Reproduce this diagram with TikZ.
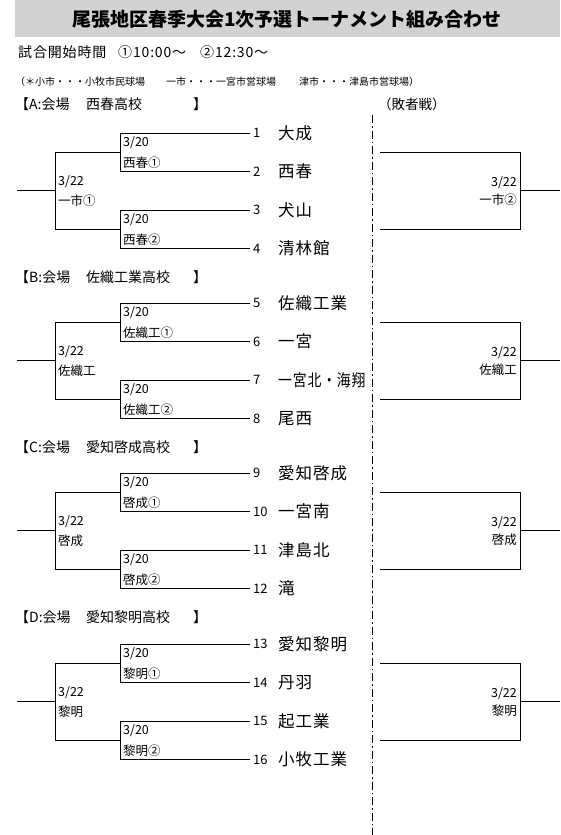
\documentclass[tikz,border=0pt]{standalone}
\usepackage{fontspec}
\setmainfont{Noto Sans CJK JP}
\begin{document}
\begin{tikzpicture}[x=1pt,y=-1pt,
  ln/.style={line width=0.9pt},
  team/.style={anchor=west,inner sep=0pt,font=\fontsize{16.5}{16.5}\selectfont\addfontfeature{LetterSpace=6}},
  num/.style={anchor=west,inner sep=0pt,font=\fontsize{13}{13}\selectfont},
  lbl/.style={anchor=west,inner sep=0pt,font=\fontsize{12.5}{12.5}\selectfont},
  lblr/.style={anchor=east,inner sep=0pt,font=\fontsize{12.5}{12.5}\selectfont},
  hdr/.style={anchor=west,inner sep=0pt,font=\fontsize{14}{14}\selectfont},
  note/.style={anchor=west,inner sep=0pt,font=\fontsize{10}{10}\selectfont},
  tline/.style={anchor=west,inner sep=0pt,font=\fontsize{14}{14}\selectfont\addfontfeature{LetterSpace=6}}]
\useasboundingbox (0,0) rectangle (560,835);
\fill[gray!35] (15,0) rectangle (560,37);
\node[inner sep=0pt,font=\fontsize{19}{19}\selectfont\bfseries] (title) at (287,19) {尾張地区春季大会1次予選トーナメント組み合わせ};
\node[tline] (time) at (18,52) {試合開始時間};
\node[tline] (time1) at (118,52) {①10:00～};
\node[tline] (time2) at (200,52) {②12:30～};
\node[note] (note1) at (15,82) {（＊小市・・・小牧市民球場};
\node[note] (note2) at (166,82) {一市・・・一宮市営球場};
\node[note] (note3) at (299,82) {津市・・・津島市営球場）};
\node[anchor=west,inner sep=0pt,font=\fontsize{13.5}{13.5}\selectfont] (loser) at (378,104) {（敗者戦）};
\coordinate (dtop) at (372,115);
\coordinate (dbot) at (372,835);
\draw[line width=0.8pt,dash pattern=on 8pt off 3pt on 1.5pt off 3pt] (dtop) -- (dbot);
\foreach \sec/\yz/\hy/\hn/\na/\nb/\nc/\nd/\la/\lb/\lc/\lr [count=\i from 0] in {
  A/133/104/西春高校/大成/西春/犬山/清林館/西春①/西春②/一市①/一市②,
  B/303/277/佐織工業高校/佐織工業/一宮/{\scalebox{0.84}[1]{一宮北・海翔}}/尾西/佐織工①/佐織工②/佐織工/佐織工,
  C/473/447/愛知啓成高校/愛知啓成/一宮南/津島北/滝/啓成①/啓成②/啓成/啓成,
  D/644/617/愛知黎明高校/愛知黎明/丹羽/起工業/小牧工業/黎明①/黎明②/黎明/黎明}{
  \pgfmathsetmacro{\ta}{\yz}
  \pgfmathsetmacro{\tb}{\yz+38.5}
  \pgfmathsetmacro{\tc}{\yz+77}
  \pgfmathsetmacro{\td}{\yz+115.5}
  \pgfmathsetmacro{\ma}{\yz+19.25}
  \pgfmathsetmacro{\mb}{\yz+96.25}
  \pgfmathsetmacro{\mm}{\yz+57.75}
  \pgfmathtruncatemacro{\n}{4*\i}
  \node[hdr] (h\sec a) at (15,\hy) {【\sec:会場};
  \node[hdr] (h\sec b) at (86,\hy) {\hn};
  \node[hdr] (h\sec c) at (193,\hy) {】};
  % team end points
  \coordinate (e\sec 1) at (250,\ta);
  \coordinate (e\sec 2) at (250,\tb);
  \coordinate (e\sec 3) at (250,\tc);
  \coordinate (e\sec 4) at (250,\td);
  \coordinate (r\sec 1) at (120,\ma);
  \coordinate (r\sec 2) at (120,\mb);
  \coordinate (s\sec 1) at (55,\ma);
  \coordinate (s\sec 2) at (55,\mb);
  \coordinate (s\sec m) at (55,\mm);
  \coordinate (o\sec) at (17,\mm);
  \draw[ln] (e\sec 1) -- (120,\ta) -- (120,\tb) -- (e\sec 2);
  \draw[ln] (e\sec 3) -- (120,\tc) -- (120,\td) -- (e\sec 4);
  \draw[ln] (r\sec 1) -- (s\sec 1) -- (s\sec 2) -- (r\sec 2);
  \draw[ln] (o\sec) -- (s\sec m);
  % numbers and teams
  \pgfmathtruncatemacro{\nA}{\n+1}
  \pgfmathtruncatemacro{\nB}{\n+2}
  \pgfmathtruncatemacro{\nC}{\n+3}
  \pgfmathtruncatemacro{\nD}{\n+4}
  \node[num] (n\nA) at (253,\ta) {\nA};
  \node[num] (n\nB) at (253,\tb) {\nB};
  \node[num] (n\nC) at (253,\tc) {\nC};
  \node[num] (n\nD) at (253,\td) {\nD};
  \node[team] (t\nA) at (278,\ta) {\na};
  \node[team] (t\nB) at (278,\tb) {\nb};
  \node[team] (t\nC) at (278,\tc) {\nc};
  \node[team] (t\nD) at (278,\td) {\nd};
  % labels
  \node[lbl] (d\sec 1) at (123,\ta+10) {3/20};
  \node[lbl] (g\sec 1) at (123,\tb-9) {\la};
  \node[lbl] (d\sec 2) at (123,\tc+10) {3/20};
  \node[lbl] (g\sec 2) at (123,\td-9) {\lb};
  \node[lbl] (d\sec 3) at (58,\mm-9) {3/22};
  \node[lbl] (g\sec 3) at (58,\mm+10) {\lc};
  % loser bracket
  \coordinate (la\sec) at (380,\ma);
  \coordinate (lb\sec) at (380,\mb);
  \coordinate (lo\sec) at (560,\mm);
  \draw[ln] (la\sec) -- (520,\ma) -- (520,\mb) -- (lb\sec);
  \draw[ln] (520,\mm) -- (lo\sec);
  \node[lblr] (d\sec 4) at (517,\mm-8) {3/22};
  \node[lblr] (g\sec 4) at (517,\mm+9) {\lr};
}
\end{tikzpicture}
\end{document}
